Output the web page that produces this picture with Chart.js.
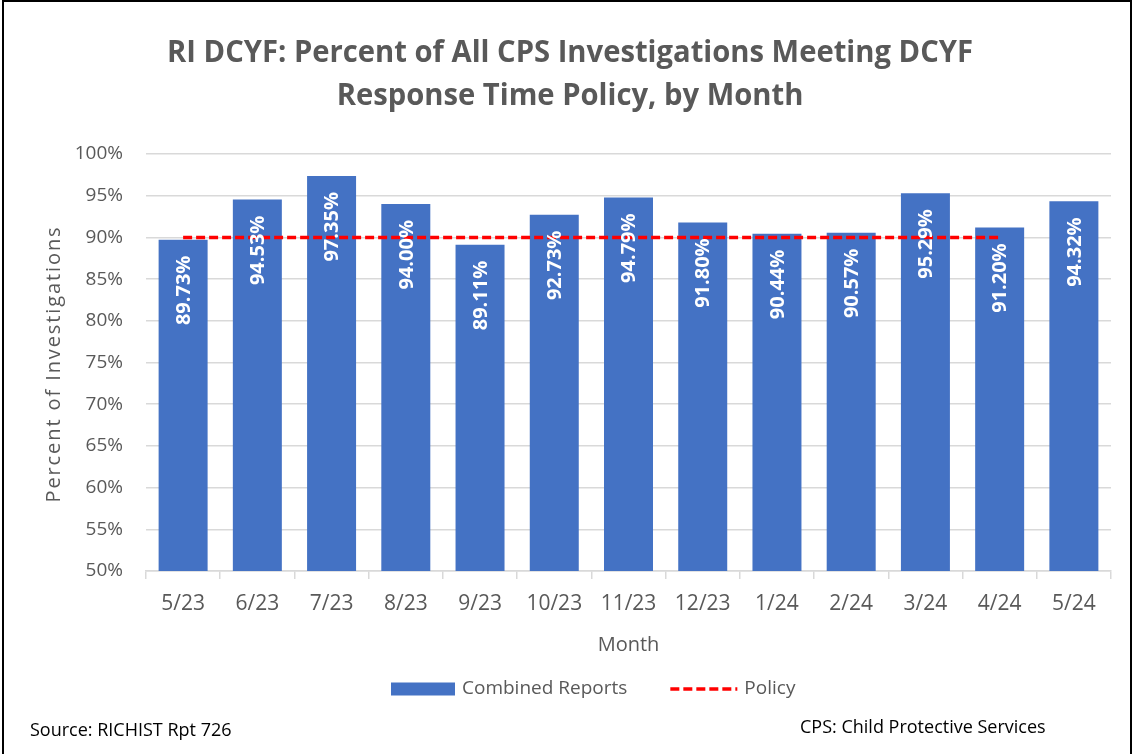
<!DOCTYPE html>
<html>
<head>
<meta charset="utf-8">
<title>RI DCYF response time</title>
<script src="https://cdn.jsdelivr.net/npm/chart.js@4.4.1/dist/chart.umd.min.js"></script>
<style>
  html, body { margin: 0; padding: 0; background: #fff; }
  #wrap { position: relative; width: 1133px; height: 754px; }
</style>
</head>
<body>
<div id="wrap"><canvas id="myChart" width="1133" height="754"></canvas></div>
<script>
// chart data
var months = ['5/23', '6/23', '7/23', '8/23', '9/23', '10/23', '11/23', '12/23', '1/24', '2/24', '3/24', '4/24', '5/24'];
var combined = [89.73, 94.53, 97.35, 94.00, 89.11, 92.73, 94.79, 91.80, 90.44, 90.57, 95.29, 91.20, 94.32];
var policy = [90, 90, 90, 90, 90, 90, 90, 90, 90, 90, 90, 90, null];
var titleLines = ['RI DCYF: Percent of All CPS Investigations Meeting DCYF', 'Response Time Policy, by Month'];
var yTitle = 'Percent of Investigations';
var xTitle = 'Month';
var sourceNote = 'Source: RICHIST Rpt 726';
var cpsNote = 'CPS: Child Protective Services';

var FONT = "'Open Sans', sans-serif";
var GRAY = '#595959';
var BLUE = '#4472C4';

//Draws the value labels inside the bars, rotated
var barLabels = {
  id: 'barLabels',
  afterDatasetsDraw: function (chart) {
    var ctx = chart.ctx;
    var meta = chart.getDatasetMeta(0);
    ctx.save();
    ctx.fillStyle = '#ffffff';
    ctx.font = 'bold 20px ' + FONT;
    ctx.textAlign = 'right';
    ctx.textBaseline = 'middle';
    meta.data.forEach(function (bar, i) {
      ctx.save();
      ctx.translate(bar.x + 1, bar.y + 16);
      ctx.rotate(-Math.PI / 2);
      ctx.fillText(combined[i].toFixed(2) + '%', 0, 0);
      ctx.restore();
    });
    ctx.restore();
  }
};

//Title, y title, legend, footnotes and the frame
var extras = {
  id: 'extras',
  afterDraw: function (chart) {
    var ctx = chart.ctx;
    ctx.save();
    // frame
    ctx.strokeStyle = '#000';
    ctx.lineWidth = 2;
    ctx.beginPath();
    ctx.moveTo(3, 754);
    ctx.lineTo(3, 1);
    ctx.lineTo(1131, 1);
    ctx.lineTo(1131, 754);
    ctx.stroke();

    // title, squeezed a little like the original
    ctx.fillStyle = GRAY;
    ctx.font = 'bold 30px ' + FONT;
    ctx.textAlign = 'center';
    ctx.textBaseline = 'alphabetic';
    var sx = 806 / ctx.measureText(titleLines[0]).width;
    ctx.save();
    ctx.translate(570, 0);
    ctx.scale(sx, 1);
    ctx.fillText(titleLines[0], 0, 62);
    ctx.fillText(titleLines[1], 0, 105);
    ctx.restore();

    // y axis title, letter spaced
    ctx.save();
    ctx.font = '20px ' + FONT;
    ctx.letterSpacing = '1.9px';
    ctx.textBaseline = 'middle';
    ctx.translate(54, 364);
    ctx.rotate(-Math.PI / 2);
    ctx.fillText(yTitle, 0, 0);
    ctx.restore();

    // legend
    var ds = chart.data.datasets;
    var x = 391, y = 689;
    ctx.font = '19px ' + FONT;
    ctx.textBaseline = 'middle';
    ctx.textAlign = 'left';
    ctx.fillStyle = ds[0].backgroundColor;
    ctx.fillRect(x, y - 6.5, 64, 13);
    ctx.fillStyle = GRAY;
    ctx.fillText(ds[0].label, x + 71, y);
    x = x + 71 + ctx.measureText(ds[0].label).width + 43;
    ctx.strokeStyle = ds[1].borderColor;
    ctx.lineWidth = ds[1].borderWidth;
    ctx.setLineDash(ds[1].borderDash);
    ctx.beginPath();
    ctx.moveTo(x, y);
    ctx.lineTo(x + 67, y);
    ctx.stroke();
    ctx.setLineDash([]);
    ctx.fillText(ds[1].label, x + 74, y);

    // footnotes
    ctx.fillStyle = '#000';
    ctx.font = '18px ' + FONT;
    ctx.fillText(sourceNote, 30, 731);
    ctx.fillText(cpsNote, 800, 728);
    ctx.restore();
  }
};

var ctx = document.getElementById('myChart');
var myChart = new Chart(ctx, {
  type: 'bar',
  data: {
    labels: months,
    datasets: [{
      label: 'Combined Reports',
      data: combined,
      backgroundColor: BLUE,
      categoryPercentage: 0.66,
      barPercentage: 1,
      order: 2
    }, {
      type: 'line',
      label: 'Policy',
      data: policy,
      borderColor: '#FF0000',
      backgroundColor: '#FF0000',
      borderWidth: 3.5,
      borderDash: [9, 4],
      pointRadius: 0,
      fill: false,
      tension: 0,
      order: 1
    }]
  },
  plugins: [barLabels, extras],
  options: {
    responsive: false,
    animation: false,
    layout: { padding: { left: 39, right: 22, top: 154, bottom: 97 } },
    plugins: {
      legend: { display: false },
      tooltip: { enabled: false },
      title: { display: false }
    },
    scales: {
      x: {
        grid: { drawOnChartArea: false, drawTicks: true, tickLength: 8, color: '#d9d9d9', lineWidth: 1.5 },
        border: { color: '#d9d9d9', width: 1.5 },
        ticks: { color: GRAY, font: { family: FONT, size: 21 }, padding: 12 },
        title: { display: true, text: xTitle, color: GRAY, font: { family: FONT, size: 20 }, padding: { top: 0, bottom: 0 } },
        afterFit: function (scale) { scale.height = 86; }
      },
      y: {
        min: 50,
        max: 100,
        grid: { drawTicks: false, color: '#d9d9d9', lineWidth: 1.5 },
        border: { display: false },
        ticks: {
          stepSize: 5,
          padding: 23,
          color: GRAY,
          font: { family: FONT, size: 19 },
          callback: function (v) { return v + '%'; }
        },
        afterFit: function (scale) { scale.width = 107; }
      }
    }
  }
});
</script>
</body>
</html>
